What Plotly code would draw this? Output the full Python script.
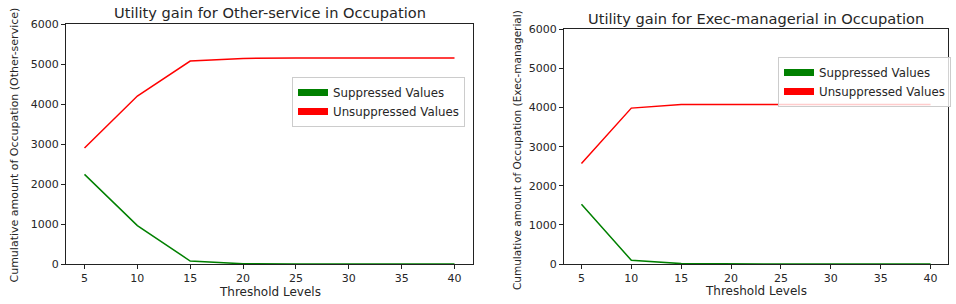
import plotly.graph_objects as go

thresholds = [5, 10, 15, 20, 25, 30, 35, 40]
other_suppressed = [2240, 960, 75, 5, 0, 0, 0, 0]
other_unsuppressed = [2900, 4200, 5075, 5140, 5150, 5150, 5150, 5150]
exec_suppressed = [1530, 95, 10, 0, 0, 0, 0, 0]
exec_unsuppressed = [2570, 3985, 4075, 4080, 4080, 4080, 4080, 4080]
x_ticks = [5, 10, 15, 20, 25, 30, 35, 40]
y_ticks = [0, 1000, 2000, 3000, 4000, 5000, 6000]

W, H = 956, 304
FONT = "DejaVu Sans"
TXT = "#262626"

fig = go.Figure()

def add_panel(xa, ya, sup, unsup, legend):
    fig.add_trace(go.Scatter(x=thresholds, y=unsup, mode="lines", line=dict(color="red", width=1.5),
                             xaxis=xa, yaxis=ya, showlegend=False))
    fig.add_trace(go.Scatter(x=thresholds, y=sup, mode="lines", line=dict(color="green", width=1.5),
                             xaxis=xa, yaxis=ya, showlegend=False))
    fig.add_trace(go.Scatter(x=[None], y=[None], mode="lines", line=dict(color="green", width=7),
                             name="Suppressed Values", xaxis=xa, yaxis=ya, legend=legend))
    fig.add_trace(go.Scatter(x=[None], y=[None], mode="lines", line=dict(color="red", width=7),
                             name="Unsuppressed Values", xaxis=xa, yaxis=ya, legend=legend))

add_panel("x", "y", other_suppressed, other_unsuppressed, "legend")
add_panel("x2", "y2", exec_suppressed, exec_unsuppressed, "legend2")

def px_x(p):
    return p / W

def px_y(p):
    return 1 - p / H

axis_common = dict(showgrid=False, zeroline=False, showline=True, linecolor="#222", linewidth=1,
                   mirror=True, ticks="outside", ticklen=4, tickcolor="#222", automargin=False,
                   tickfont=dict(family=FONT, size=11, color=TXT))

legend_common = dict(xanchor="left", yanchor="top", xref="container", yref="container",
                     bgcolor="rgba(255,255,255,0.8)", bordercolor="#cccccc", borderwidth=1,
                     font=dict(family=FONT, size=11.8, color=TXT), itemwidth=30, tracegroupgap=0)

fig.update_layout(
    width=W, height=H,
    margin=dict(l=0, r=0, t=0, b=0, autoexpand=False),
    paper_bgcolor="white", plot_bgcolor="white",
    font=dict(family=FONT, color=TXT),
    xaxis=dict(domain=[px_x(66), px_x(473)], range=[3.25, 41.75], tickvals=x_ticks, anchor="y", **axis_common),
    yaxis=dict(domain=[px_y(264), px_y(24)], range=[0, 6000], tickvals=y_ticks, anchor="x", **axis_common),
    xaxis2=dict(domain=[px_x(564), px_x(948)], range=[3.25, 41.75], tickvals=x_ticks, anchor="y2", **axis_common),
    yaxis2=dict(domain=[px_y(264), px_y(29.3)], range=[0, 6000], tickvals=y_ticks, anchor="x2", **axis_common),
    legend=dict(x=px_x(292), y=px_y(77), **legend_common),
    legend2=dict(x=px_x(778), y=px_y(57), **legend_common),
)

annots = [
    dict(text="Utility gain for Other-service in Occupation", x=px_x(269.5), y=px_y(12), size=14.6, angle=0),
    dict(text="Utility gain for Exec-managerial in Occupation", x=px_x(756), y=px_y(18), size=14.6, angle=0),
    dict(text="Threshold Levels", x=px_x(269.5), y=px_y(292), size=12, angle=0),
    dict(text="Threshold Levels", x=px_x(756), y=px_y(291), size=12, angle=0),
    dict(text="Cumulative amount of Occupation (Other-service)", x=px_x(13.5), y=px_y(145), size=11, angle=-90),
    dict(text="Cumulative amount of Occupation (Exec-managerial)", x=px_x(517), y=px_y(150), size=10.5, angle=-90),
]
for a in annots:
    fig.add_annotation(text=a["text"], x=a["x"], y=a["y"], xref="paper", yref="paper",
                       xanchor="center", yanchor="middle", showarrow=False, textangle=a["angle"],
                       font=dict(family=FONT, size=a["size"], color=TXT))

fig.write_html("out.html", config={"displayModeBar": False},
               post_script="document.body.style.margin='0px';document.body.style.overflow='hidden';")
